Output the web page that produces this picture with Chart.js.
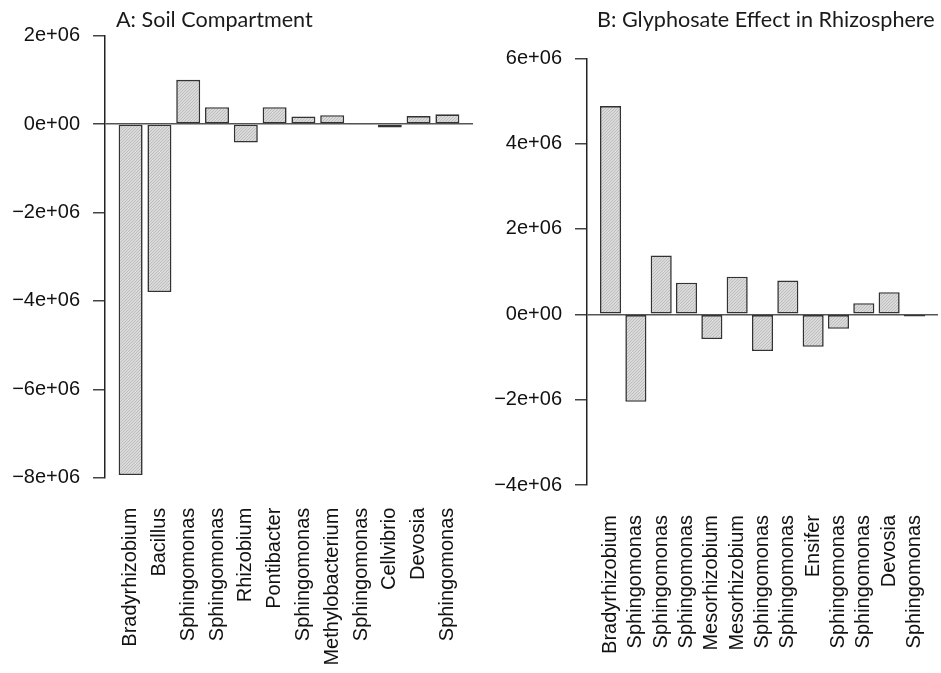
<!DOCTYPE html>
<html>
<head>
<meta charset="utf-8">
<script src="https://cdn.jsdelivr.net/npm/chart.js@4"></script>
<style>
  body { margin: 0; background: #fff; }
  .panel { position: absolute; top: 0; }
</style>
</head>
<body>
<canvas id="soilChart" class="panel" width="480" height="673" style="left:0"></canvas>
<canvas id="rhizoChart" class="panel" width="461" height="673" style="left:480px"></canvas>
<script>
// panel A
const soilGenera = ["Bradyrhizobium", "Bacillus", "Sphingomonas", "Sphingomonas", "Rhizobium", "Pontibacter",
  "Sphingomonas", "Methylobacterium", "Sphingomonas", "Cellvibrio", "Devosia", "Sphingomonas"];
const soilValues = [-7.94e6, -3.8e6, 1.0e6, 0.38e6, -0.42e6, 0.38e6, 0.17e6, 0.2e6, -0.02e6, -0.08e6, 0.18e6, 0.22e6];
const soilTicks = [-8e6, 2e6];

// panel B
const rhizoGenera = ["Bradyrhizobium", "Sphingomonas", "Sphingomonas", "Sphingomonas", "Mesorhizobium", "Mesorhizobium",
  "Sphingomonas", "Sphingomonas", "Ensifer", "Sphingomonas", "Sphingomonas", "Devosia", "Sphingomonas"];
const rhizoValues = [4.88e6, -2.05e6, 1.38e6, 0.74e6, -0.58e6, 0.88e6, -0.86e6, 0.79e6, -0.76e6, -0.34e6, 0.26e6, 0.52e6, -0.05e6];
const rhizoTicks = [-4e6, 6e6];

const axisFont = { family: "'Liberation Sans', Arial, sans-serif", size: 20 };

function hatch() {
  const c = document.createElement('canvas');
  c.width = 3; c.height = 3;
  const g = c.getContext('2d');
  g.fillStyle = '#dadada';
  g.fillRect(0, 0, 3, 3);
  g.fillStyle = '#bdbdbd';
  g.fillRect(2, 0, 1, 1);
  g.fillRect(1, 1, 1, 1);
  g.fillRect(0, 2, 1, 1);
  return g.createPattern(c, 'repeat');
}

function sci(v) {
  if (v === 0) return '0e+00';
  const s = Math.abs(v / 1e6) + 'e+06';
  return v < 0 ? '\u2212' + s : s;
}

const titlePlugin = {
  id: 'panelTitle',
  afterDraw(chart, args, opts) {
    const ctx = chart.ctx;
    ctx.save();
    ctx.font = "21.6px Lato, 'Open Sans', sans-serif";
    ctx.fillStyle = '#1a1a1a';
    ctx.textBaseline = 'alphabetic';
    ctx.fillText(opts.text, opts.x, opts.y);
    ctx.restore();
  }
};

function drawPanel(id, genera, values, range, yWidth, padTop, padRight, xHeight, title, titleX) {
  const n = genera.length;
  // R barplot: width 1, space 0.2, axis extended 4%
  const side = (0.5 + 0.04 * (1.2 * n - 0.2)) / 1.2;
  new Chart(document.getElementById(id), {
    type: 'bar',
    data: {
      datasets: [{
        data: values.map((v, i) => ({ x: i, y: v })),
        backgroundColor: hatch(),
        borderColor: '#333',
        borderWidth: 1.6,
        borderSkipped: false,
        barPercentage: 1 / 1.2,
        categoryPercentage: 1
      }]
    },
    options: {
      responsive: false,
      animation: false,
      layout: { padding: { top: padTop, right: padRight, left: 0, bottom: 0 } },
      plugins: {
        legend: { display: false },
        tooltip: { enabled: false },
        panelTitle: { text: title, x: titleX, y: 27 }
      },
      scales: {
        x: {
          type: 'linear',
          offset: false,
          min: -side,
          max: n - 1 + side,
          afterFit: s => { s.height = xHeight; s.paddingLeft = 0; s.paddingRight = 0; },
          grid: { display: false, drawTicks: false, offset: false },
          border: { display: false },
          ticks: {
            stepSize: 1,
            includeBounds: false,
            autoSkip: false,
            minRotation: 90,
            maxRotation: 90,
            padding: 30,
            color: '#111',
            font: axisFont,
            callback: v => Number.isInteger(v) ? genera[v] : ''
          }
        },
        y: {
          min: range[0],
          max: range[1],
          afterFit: s => { s.width = yWidth; },
          border: { display: true, color: '#222', width: 1.5 },
          grid: {
            drawTicks: true,
            tickLength: 12,
            lineWidth: 1.5,
            color: c => c.tick && c.tick.value === 0 ? '#555' : 'rgba(0,0,0,0)',
            tickColor: '#444',
            tickWidth: 1.5
          },
          ticks: {
            stepSize: 2e6,
            padding: 13,
            color: '#111',
            font: axisFont,
            callback: v => sci(v)
          }
        }
      }
    },
    plugins: [titlePlugin]
  });
}

drawPanel('soilChart', soilGenera, soilValues, soilTicks, 105, 35.6, 7, 195.3, 'A: Soil Compartment', 116);
drawPanel('rhizoChart', rhizoGenera, rhizoValues, rhizoTicks, 107, 58.3, 3, 188, 'B: Glyphosate Effect in Rhizosphere', 117);
</script>
</body>
</html>
